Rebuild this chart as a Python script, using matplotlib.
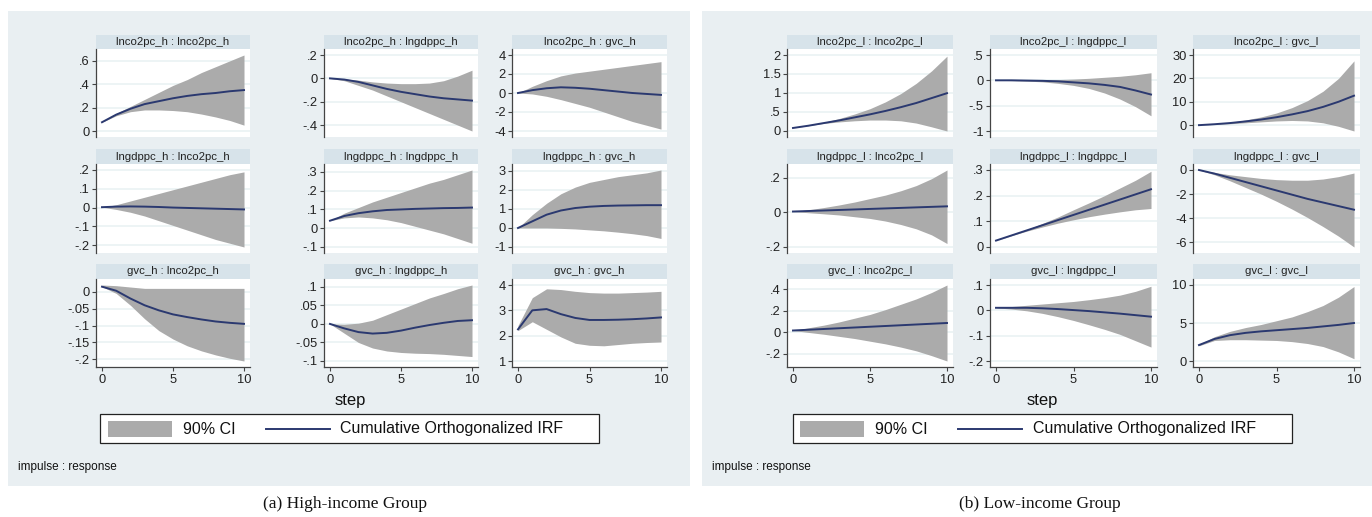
import matplotlib
matplotlib.use("Agg")
import matplotlib.pyplot as plt
from matplotlib.patches import Rectangle
from matplotlib.lines import Line2D
import numpy as np

plt.rcParams['font.family'] = ['Liberation Sans', 'DejaVu Sans']

steps = list(range(11))

# ---------------- High-income group ----------------
h_titles = ["lnco2pc_h : lnco2pc_h", "lnco2pc_h : lngdppc_h", "lnco2pc_h : gvc_h",
            "lngdppc_h : lnco2pc_h", "lngdppc_h : lngdppc_h", "lngdppc_h : gvc_h",
            "gvc_h : lnco2pc_h", "gvc_h : lngdppc_h", "gvc_h : gvc_h"]

h11_irf = [0.075, 0.14, 0.19, 0.23, 0.255, 0.28, 0.30, 0.315, 0.325, 0.34, 0.35]
h11_hi = [0.075, 0.15, 0.21, 0.27, 0.33, 0.39, 0.44, 0.50, 0.55, 0.60, 0.65]
h11_lo = [0.075, 0.13, 0.165, 0.18, 0.18, 0.175, 0.165, 0.145, 0.12, 0.09, 0.05]
h11_ticks = [0, 0.2, 0.4, 0.6]

h12_irf = [0, -0.01, -0.03, -0.06, -0.09, -0.115, -0.135, -0.155, -0.17, -0.18, -0.19]
h12_hi = [0, -0.005, -0.015, -0.03, -0.04, -0.045, -0.045, -0.04, -0.02, 0.02, 0.07]
h12_lo = [0, -0.02, -0.06, -0.10, -0.15, -0.20, -0.25, -0.30, -0.35, -0.40, -0.45]
h12_ticks = [-0.4, -0.2, 0, 0.2]

h13_irf = [0, 0.3, 0.5, 0.6, 0.55, 0.45, 0.3, 0.15, 0.0, -0.1, -0.2]
h13_hi = [0, 0.7, 1.3, 1.8, 2.1, 2.3, 2.5, 2.7, 2.9, 3.1, 3.3]
h13_lo = [0, -0.1, -0.35, -0.7, -1.1, -1.5, -2.0, -2.5, -3.0, -3.4, -3.8]
h13_ticks = [-4, -2, 0, 2, 4]

h21_irf = [0.002, 0.005, 0.006, 0.005, 0.003, 0.0, -0.002, -0.004, -0.006, -0.008, -0.01]
h21_hi = [0.002, 0.015, 0.035, 0.055, 0.075, 0.095, 0.115, 0.135, 0.155, 0.175, 0.19]
h21_lo = [0.002, -0.01, -0.025, -0.045, -0.07, -0.095, -0.12, -0.145, -0.17, -0.19, -0.21]
h21_ticks = [-0.2, -0.1, 0, 0.1, 0.2]

h22_irf = [0.04, 0.065, 0.08, 0.09, 0.097, 0.1, 0.103, 0.105, 0.107, 0.108, 0.11]
h22_hi = [0.04, 0.08, 0.11, 0.14, 0.165, 0.19, 0.215, 0.24, 0.26, 0.285, 0.31]
h22_lo = [0.04, 0.055, 0.06, 0.055, 0.045, 0.03, 0.01, -0.01, -0.03, -0.055, -0.08]
h22_ticks = [-0.1, 0, 0.1, 0.2, 0.3]

h23_irf = [0, 0.35, 0.7, 0.92, 1.05, 1.12, 1.16, 1.18, 1.19, 1.2, 1.2]
h23_hi = [0, 0.7, 1.3, 1.8, 2.15, 2.4, 2.55, 2.7, 2.8, 2.9, 3.05]
h23_lo = [0, 0, 0, -0.02, -0.05, -0.1, -0.15, -0.22, -0.3, -0.4, -0.55]
h23_ticks = [-1, 0, 1, 2, 3]

h31_irf = [0.015, 0.003, -0.02, -0.04, -0.055, -0.067, -0.075, -0.082, -0.088, -0.092, -0.095]
h31_hi = [0.02, 0.018, 0.014, 0.01, 0.01, 0.01, 0.01, 0.01, 0.01, 0.01, 0.01]
h31_lo = [0.015, -0.005, -0.04, -0.08, -0.115, -0.14, -0.16, -0.175, -0.187, -0.197, -0.205]
h31_ticks = [-0.2, -0.15, -0.1, -0.05, 0]

h32_irf = [0, -0.012, -0.022, -0.026, -0.024, -0.018, -0.01, -0.003, 0.003, 0.008, 0.01]
h32_hi = [0, -0.001, 0.002, 0.01, 0.025, 0.04, 0.055, 0.07, 0.082, 0.095, 0.105]
h32_lo = [0, -0.025, -0.05, -0.065, -0.073, -0.077, -0.079, -0.08, -0.082, -0.085, -0.088]
h32_ticks = [-0.1, -0.05, 0, 0.05, 0.1]

h33_irf = [2.25, 3.0, 3.05, 2.85, 2.7, 2.62, 2.62, 2.63, 2.65, 2.68, 2.72]
h33_hi = [2.4, 3.5, 3.85, 3.82, 3.75, 3.7, 3.68, 3.68, 3.7, 3.72, 3.75]
h33_lo = [2.2, 2.55, 2.25, 1.95, 1.7, 1.62, 1.6, 1.65, 1.7, 1.73, 1.75]
h33_ticks = [1, 2, 3, 4]

# ---------------- Low-income group ----------------
l_titles = ["lnco2pc_l : lnco2pc_l", "lnco2pc_l : lngdppc_l", "lnco2pc_l : gvc_l",
            "lngdppc_l : lnco2pc_l", "lngdppc_l : lngdppc_l", "lngdppc_l : gvc_l",
            "gvc_l : lnco2pc_l", "gvc_l : lngdppc_l", "gvc_l : gvc_l"]

l11_irf = [0.07, 0.13, 0.2, 0.27, 0.35, 0.43, 0.52, 0.62, 0.73, 0.86, 0.99]
l11_hi = [0.07, 0.14, 0.22, 0.32, 0.44, 0.58, 0.76, 0.98, 1.25, 1.58, 1.97]
l11_lo = [0.07, 0.13, 0.19, 0.23, 0.26, 0.28, 0.28, 0.26, 0.2, 0.1, -0.01]
l11_ticks = [0, 0.5, 1, 1.5, 2]

l12_irf = [0, 0, -0.005, -0.01, -0.02, -0.04, -0.06, -0.09, -0.13, -0.2, -0.28]
l12_hi = [0, 0.003, 0.006, 0.01, 0.015, 0.025, 0.04, 0.06, 0.08, 0.11, 0.15]
l12_lo = [0, -0.005, -0.015, -0.03, -0.06, -0.1, -0.16, -0.25, -0.37, -0.52, -0.7]
l12_ticks = [-1, -0.5, 0, 0.5]

l13_irf = [0, 0.4, 0.9, 1.6, 2.4, 3.4, 4.6, 6.0, 7.8, 10.0, 12.6]
l13_hi = [0, 0.5, 1.2, 2.2, 3.5, 5.2, 7.5, 10.5, 14.5, 20, 27.5]
l13_lo = [0, 0.3, 0.6, 1.0, 1.4, 1.8, 2.0, 1.8, 1.0, -0.5, -2.5]
l13_ticks = [0, 10, 20, 30]

l21_irf = [0.005, 0.008, 0.011, 0.014, 0.017, 0.02, 0.023, 0.026, 0.029, 0.032, 0.035]
l21_hi = [0.005, 0.015, 0.028, 0.043, 0.06, 0.08, 0.1, 0.125, 0.155, 0.195, 0.245]
l21_lo = [0.005, -0.002, -0.008, -0.015, -0.025, -0.035, -0.05, -0.07, -0.095, -0.13, -0.18]
l21_ticks = [-0.2, 0, 0.2]

l22_irf = [0.025, 0.045, 0.065, 0.085, 0.105, 0.125, 0.145, 0.165, 0.185, 0.205, 0.225]
l22_hi = [0.025, 0.046, 0.068, 0.092, 0.117, 0.145, 0.172, 0.2, 0.23, 0.26, 0.295]
l22_lo = [0.025, 0.044, 0.062, 0.078, 0.093, 0.106, 0.118, 0.128, 0.137, 0.145, 0.15]
l22_ticks = [0, 0.1, 0.2, 0.3]

l23_irf = [0, -0.3, -0.65, -1.0, -1.35, -1.7, -2.05, -2.4, -2.7, -3.0, -3.3]
l23_hi = [0, -0.2, -0.4, -0.55, -0.7, -0.8, -0.85, -0.85, -0.75, -0.55, -0.25]
l23_lo = [0, -0.4, -0.9, -1.45, -2.0, -2.6, -3.25, -3.95, -4.7, -5.5, -6.4]
l23_ticks = [-6, -4, -2, 0]

l31_irf = [0.015, 0.022, 0.029, 0.036, 0.043, 0.05, 0.057, 0.064, 0.071, 0.078, 0.085]
l31_hi = [0.015, 0.04, 0.065, 0.095, 0.13, 0.165, 0.21, 0.26, 0.31, 0.37, 0.44]
l31_lo = [0.015, -0.003, -0.02, -0.04, -0.06, -0.085, -0.11, -0.14, -0.175, -0.22, -0.27]
l31_ticks = [-0.2, 0, 0.2, 0.4]

l32_irf = [0.01, 0.01, 0.01, 0.008, 0.005, 0.001, -0.003, -0.008, -0.013, -0.019, -0.025]
l32_hi = [0.01, 0.015, 0.02, 0.025, 0.03, 0.035, 0.042, 0.05, 0.06, 0.075, 0.095]
l32_lo = [0.01, 0.005, -0.002, -0.012, -0.025, -0.04, -0.057, -0.075, -0.095, -0.12, -0.145]
l32_ticks = [-0.2, -0.1, 0, 0.1]

l33_irf = [2.1, 2.9, 3.4, 3.7, 3.9, 4.05, 4.2, 4.35, 4.55, 4.75, 5.0]
l33_hi = [2.2, 3.2, 3.9, 4.4, 4.8, 5.3, 5.8, 6.5, 7.3, 8.4, 9.8]
l33_lo = [2.0, 2.7, 2.8, 2.8, 2.75, 2.7, 2.55, 2.3, 1.9, 1.2, 0.3]
l33_ticks = [0, 5, 10]

x_ticks = [0, 5, 10]

h_panels = [(h11_irf, h11_lo, h11_hi, h11_ticks), (h12_irf, h12_lo, h12_hi, h12_ticks),
            (h13_irf, h13_lo, h13_hi, h13_ticks), (h21_irf, h21_lo, h21_hi, h21_ticks),
            (h22_irf, h22_lo, h22_hi, h22_ticks), (h23_irf, h23_lo, h23_hi, h23_ticks),
            (h31_irf, h31_lo, h31_hi, h31_ticks), (h32_irf, h32_lo, h32_hi, h32_ticks),
            (h33_irf, h33_lo, h33_hi, h33_ticks)]
l_panels = [(l11_irf, l11_lo, l11_hi, l11_ticks), (l12_irf, l12_lo, l12_hi, l12_ticks),
            (l13_irf, l13_lo, l13_hi, l13_ticks), (l21_irf, l21_lo, l21_hi, l21_ticks),
            (l22_irf, l22_lo, l22_hi, l22_ticks), (l23_irf, l23_lo, l23_hi, l23_ticks),
            (l31_irf, l31_lo, l31_hi, l31_ticks), (l32_irf, l32_lo, l32_hi, l32_ticks),
            (l33_irf, l33_lo, l33_hi, l33_ticks)]

# ---------------- styling / layout ----------------
W, H = 1372, 517
BG = "#e9eff2"
STRIP = "#d7e3ea"
GRID = "#eaf2f4"
BAND = "#ababab"
LINE = "#2b3970"

fig = plt.figure(figsize=(W / 100, H / 100), dpi=100)
fig.patch.set_facecolor("white")


def fbox(x0, y0, x1, y1):
    """pixel box (top-left origin) -> figure rect [l, b, w, h]"""
    return [x0 / W, 1 - y1 / H, (x1 - x0) / W, (y1 - y0) / H]


def stata_fmt(v):
    s = f"{v:g}"
    if s.startswith("0."):
        s = s[1:]
    elif s.startswith("-0."):
        s = "-" + s[2:]
    return s


def add_rect(x0, y0, x1, y1, fc, ec="none", lw=0):
    r = Rectangle((x0 / W, 1 - y1 / H), (x1 - x0) / W, (y1 - y0) / H,
                  transform=fig.transFigure, facecolor=fc, edgecolor=ec, lw=lw, zorder=0)
    fig.add_artist(r)


def draw_group(panels, titles, cols, rows, px0, px1, legend_box, step_x, caption, cap_x):
    add_rect(px0, 11, px1, 486, BG)
    for i, (irf, lo, hi, ticks) in enumerate(panels):
        r, c = divmod(i, 3)
        x0, x1 = cols[c]
        sy0, y0, y1 = rows[r]
        # strip
        add_rect(x0, sy0, x1, y0, STRIP)
        fig.text((x0 + x1) / 2 / W, 1 - (sy0 + y0) / 2 / H, titles[i],
                 ha="center", va="center", fontsize=8.2, color="#222222")
        ax = fig.add_axes(fbox(x0, y0, x1, y1))
        ax.set_facecolor("white")
        ax.fill_between(steps, lo, hi, color=BAND, lw=0, zorder=2)
        ax.plot(steps, irf, color=LINE, lw=1.4, zorder=3)
        ymin = min(min(lo), min(ticks))
        ymax = max(max(hi), max(ticks))
        hpx = y1 - y0
        pad = 6 * (ymax - ymin) / (hpx - 12)
        ax.set_ylim(ymin - pad, ymax + pad)
        wpx = x1 - x0
        xpad = 6 * 10 / (wpx - 12)
        ax.set_xlim(0 - xpad, 10 + xpad)
        ax.set_yticks(ticks)
        ax.set_yticklabels([stata_fmt(t) for t in ticks])
        for t in ticks:
            ax.axhline(t, color=GRID, lw=1.2, zorder=1)
        for s in ["top", "right"]:
            ax.spines[s].set_visible(False)
        ax.spines["left"].set_color("#444444")
        ax.spines["left"].set_linewidth(0.9)
        ax.tick_params(axis="y", length=3, width=0.8, color="#444444",
                       labelsize=9.3, pad=1.5, labelcolor="#222222")
        if r == 2:
            ax.spines["bottom"].set_color("#444444")
            ax.spines["bottom"].set_linewidth(0.9)
            ax.set_xticks(x_ticks)
            ax.set_xticklabels([stata_fmt(t) for t in x_ticks])
            ax.tick_params(axis="x", length=3, width=0.8, color="#444444",
                           labelsize=9.3, pad=2, labelcolor="#222222")
        else:
            ax.spines["bottom"].set_visible(False)
            ax.set_xticks([])
    # step label
    fig.text(step_x / W, 1 - 400 / H, "step", ha="center", va="center",
             fontsize=12, color="#111111")
    # legend
    lx0, lx1, ly0, ly1, patch_x0, patch_x1, ci_x, line_x0, line_x1, txt_x = legend_box
    add_rect(lx0, ly0, lx1, ly1, "white", ec="#222222", lw=0.9)
    add_rect(patch_x0, 421, patch_x1, 437, BAND)
    fig.text(ci_x / W, 1 - 429 / H, "90% CI", ha="left", va="center",
             fontsize=11.5, color="#111111")
    fig.add_artist(Line2D([line_x0 / W, line_x1 / W], [1 - 429 / H, 1 - 429 / H],
                          transform=fig.transFigure, color=LINE, lw=1.4))
    fig.text(txt_x / W, 1 - 429 / H, "Cumulative Orthogonalized IRF", ha="left",
             va="center", fontsize=11.5, color="#111111")
    fig.text((px0 + 10) / W, 1 - 467 / H, "impulse : response", ha="left",
             va="center", fontsize=8.5, color="#111111")
    fig.text(cap_x / W, 1 - 504 / H, caption, ha="center", va="center",
             fontsize=12.5, family=["Liberation Serif", "DejaVu Serif"], color="#111111")


rows = [(35, 49, 137), (149, 164, 253), (264, 279, 367)]
draw_group(h_panels, h_titles,
           [(96, 250), (324, 478), (512, 667)], rows, 8, 690,
           (100, 599, 414, 443, 108, 172, 183, 266, 330, 340), 350,
           "(a) High-income Group", 345)
draw_group(l_panels, l_titles,
           [(787, 953), (990, 1157), (1193, 1360)], rows, 702, 1372,
           (793, 1292, 414, 443, 800, 864, 875, 958, 1022, 1033), 1042,
           "(b) Low-income Group", 1040)

fig.savefig("out.png", dpi=100)
